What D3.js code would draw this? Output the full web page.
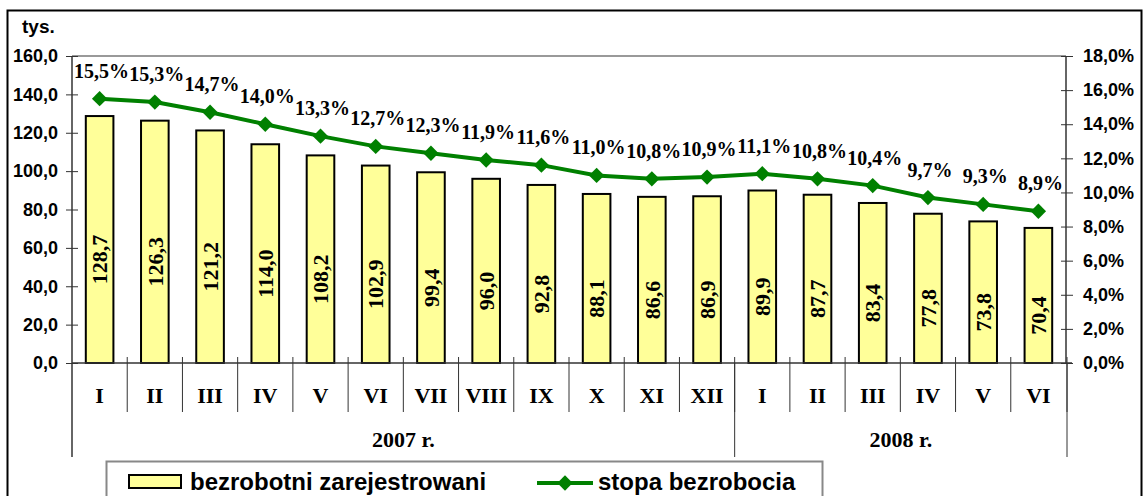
<html>
<head>
  <meta charset="utf-8">
  <title>Bezrobocie 2007-2008</title>
  <style>
    body { margin: 0; background: white; }
    svg { display: block; }
    .ax text { font: bold 18px Arial, "Liberation Sans", sans-serif; fill: black; }
    .tnr { font-family: "Times New Roman", "Liberation Serif", serif; font-weight: bold; fill: black; }
    .legend text { font: bold 24px Arial, "Liberation Sans", sans-serif; fill: black; }
  </style>
  <script src="https://cdn.jsdelivr.net/npm/d3@7"></script>
</head>
<body>
<div id="chart"></div>
<script>
  var months = ["I", "II", "III", "IV", "V", "VI", "VII", "VIII", "IX", "X", "XI", "XII",
                "I", "II", "III", "IV", "V", "VI"];
  var bezrobotni = [128.7, 126.3, 121.2, 114.0, 108.2, 102.9, 99.4, 96.0, 92.8, 88.1, 86.6, 86.9,
                    89.9, 87.7, 83.4, 77.8, 73.8, 70.4];
  var stopa = [15.5, 15.3, 14.7, 14.0, 13.3, 12.7, 12.3, 11.9, 11.6, 11.0, 10.8, 10.9,
               11.1, 10.8, 10.4, 9.7, 9.3, 8.9];
  var yearLabels = ["2007 r.", "2008 r."];
  var yearCounts = [12, 6];
  var leftTicks = [0, 20, 40, 60, 80, 100, 120, 140, 160];
  var rightTicks = [0, 2, 4, 6, 8, 10, 12, 14, 16, 18];

  var W = 1143, H = 496;
  var plotL = 72, plotR = 1066, plotT = 56, plotB = 363;
  var GREEN = "#008000";

  var loc = d3.formatLocale({ decimal: ",", thousands: " ", grouping: [3], currency: ["", ""] });
  var f1 = loc.format(".1f");

  var svg = d3.select("#chart").append("svg")
      .attr("width", W)
      .attr("height", H);

  svg.append("rect")
      .attr("width", W).attr("height", H)
      .attr("fill", "white");

  // outer frame
  svg.append("rect")
      .attr("x", 7.5).attr("y", 10.5)
      .attr("width", 1134).attr("height", 500)
      .attr("fill", "none")
      .attr("stroke", "black")
      .attr("stroke-width", 2);

  var x = d3.scaleBand()
      .domain(d3.range(months.length))
      .range([plotL, plotR])
      .padding(0);
  var barW = x.bandwidth() * 0.5;

  var y = d3.scaleLinear().domain([0, 160]).range([plotB, plotT]);
  var y2 = d3.scaleLinear().domain([0, 18]).range([plotB, plotT]);

  // plot area top border
  svg.append("line")
      .attr("x1", plotL).attr("x2", plotR)
      .attr("y1", plotT).attr("y2", plotT)
      .attr("stroke", "#999").attr("stroke-width", 2);

  // left axis
  var la = svg.append("g").attr("class", "ax")
      .attr("transform", "translate(" + plotL + ",0)")
      .call(d3.axisLeft(y).tickValues(leftTicks).tickFormat(f1).tickSize(6).tickPadding(8));
  la.select(".domain").remove();
  la.selectAll(".tick line").attr("x1", -6).attr("x2", 6).attr("stroke", "#333");

  // right axis
  var ra = svg.append("g").attr("class", "ax")
      .attr("transform", "translate(" + plotR + ",0)")
      .call(d3.axisRight(y2).tickValues(rightTicks).tickFormat(function(d) { return f1(d) + "%"; })
            .tickSize(6).tickPadding(11));
  ra.select(".domain").remove();
  ra.selectAll(".tick line").attr("x1", -5).attr("x2", 7).attr("stroke", "#333");

  svg.append("text")
      .attr("x", 22).attr("y", 33)
      .style("font", "bold 19px Arial, 'Liberation Sans', sans-serif")
      .text("tys.");

  // bars
  svg.selectAll("rect.bar")
      .data(bezrobotni)
    .enter().append("rect")
      .attr("class", "bar")
      .attr("x", function(d, i) { return x(i) + (x.bandwidth() - barW) / 2; })
      .attr("y", function(d) { return y(d); })
      .attr("width", barW)
      .attr("height", function(d) { return plotB - y(d); })
      .attr("fill", "#FFFF99")
      .attr("stroke", "black")
      .attr("stroke-width", 2);

  // bar labels
  svg.selectAll("text.bl")
      .data(bezrobotni)
    .enter().append("text")
      .attr("class", "bl tnr")
      .attr("transform", function(d, i) {
        var cx = x(i) + x.bandwidth() / 2;
        var cy = (y(d) + plotB) / 2 + 20;
        return "translate(" + cx + "," + cy + ") rotate(-90)";
      })
      .attr("text-anchor", "middle")
      .attr("dy", "0.35em")
      .style("font-size", "22px")
      .text(function(d) { return f1(d); });

  // axis lines
  svg.append("line")
      .attr("x1", plotL).attr("x2", plotL).attr("y1", plotT).attr("y2", 457)
      .attr("stroke", "#333").attr("stroke-width", 1.5);
  svg.append("line")
      .attr("x1", plotR).attr("x2", plotR).attr("y1", plotT).attr("y2", plotB)
      .attr("stroke", "#333").attr("stroke-width", 1.5);
  svg.append("line")
      .attr("x1", plotL).attr("x2", plotR + 6).attr("y1", plotB).attr("y2", plotB)
      .attr("stroke", "#333").attr("stroke-width", 1.5);

  // category ticks
  svg.selectAll("line.ct")
      .data(d3.range(1, months.length + 1))
    .enter().append("line")
      .attr("class", "ct")
      .attr("x1", function(i) { return i < months.length ? x(i) : plotR + 1; })
      .attr("x2", function(i) { return i < months.length ? x(i) : plotR + 1; })
      .attr("y1", plotB - 6).attr("y2", 412)
      .attr("stroke", "#333").attr("stroke-width", 1);

  svg.selectAll("text.month")
      .data(months)
    .enter().append("text")
      .attr("class", "month tnr")
      .attr("x", function(d, i) { return x(i) + x.bandwidth() / 2; })
      .attr("y", 403)
      .attr("text-anchor", "middle")
      .style("font-size", "22px")
      .text(function(d) { return d; });

  // year groups
  var start = 0;
  yearLabels.forEach(function(lab, k) {
    var end = start + yearCounts[k];
    var x0 = x(start);
    var x1 = end < months.length ? x(end) : plotR + 1;
    svg.append("line")
        .attr("x1", x1).attr("x2", x1).attr("y1", plotB).attr("y2", 457)
        .attr("stroke", "#333").attr("stroke-width", 1);
    svg.append("text")
        .attr("class", "tnr")
        .attr("x", (x0 + x1) / 2)
        .attr("y", 447)
        .attr("text-anchor", "middle")
        .style("font-size", "22px")
        .text(lab);
    start = end;
  });

  // line series
  var line = d3.line()
      .x(function(d, i) { return x(i) + x.bandwidth() / 2; })
      .y(function(d) { return y2(d); });

  svg.append("path")
      .datum(stopa)
      .attr("d", line)
      .attr("fill", "none")
      .attr("stroke", GREEN)
      .attr("stroke-width", 4);

  var diamond = d3.symbol().type(d3.symbolDiamond2).size(150);

  svg.selectAll("path.mk")
      .data(stopa)
    .enter().append("path")
      .attr("class", "mk")
      .attr("d", diamond)
      .attr("transform", function(d, i) {
        return "translate(" + (x(i) + x.bandwidth() / 2) + "," + y2(d) + ")";
      })
      .attr("fill", GREEN);

  svg.selectAll("text.pl")
      .data(stopa)
    .enter().append("text")
      .attr("class", "pl tnr")
      .attr("x", function(d, i) { return x(i) + x.bandwidth() / 2 + 2; })
      .attr("y", function(d) { return y2(d) - 21; })
      .attr("text-anchor", "middle")
      .style("font-size", "20px")
      .text(function(d) { return f1(d) + "%"; });

  // legend
  var lg = svg.append("g").attr("class", "legend");
  lg.append("rect")
      .attr("x", 106.5).attr("y", 461.5)
      .attr("width", 716).attr("height", 60)
      .attr("fill", "white")
      .attr("stroke", "#888").attr("stroke-width", 2);
  lg.append("rect")
      .attr("x", 129).attr("y", 475)
      .attr("width", 52).attr("height", 13)
      .attr("fill", "#FFFF99")
      .attr("stroke", "black").attr("stroke-width", 2);
  lg.append("text")
      .attr("x", 190).attr("y", 490)
      .text("bezrobotni zarejestrowani");
  lg.append("line")
      .attr("x1", 537).attr("x2", 593).attr("y1", 483).attr("y2", 483)
      .attr("stroke", GREEN).attr("stroke-width", 4);
  lg.append("path")
      .attr("d", diamond)
      .attr("transform", "translate(565,483)")
      .attr("fill", GREEN);
  lg.append("text")
      .attr("x", 598).attr("y", 490)
      .text("stopa bezrobocia");
</script>
</body>
</html>
